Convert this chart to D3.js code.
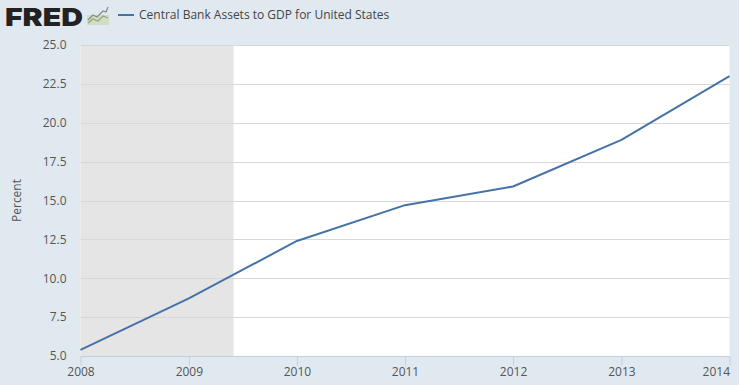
<!DOCTYPE html>
<html>
<head>
<meta charset="utf-8">
<script src="https://cdn.jsdelivr.net/npm/d3@7"></script>
<style>
  html, body { margin: 0; padding: 0; background: #e1e9f0; overflow: hidden; }
  text { font-family: "Open Sans", sans-serif; }
</style>
</head>
<body>
<div id="chart"></div>
<script>
const years = ['2008', '2009', '2010', '2011', '2012', '2013', '2014'];
const assets = [5.4, 8.7, 12.4, 14.7, 15.9, 18.9, 23.0];
const yTicks = [5, 7.5, 10, 12.5, 15, 17.5, 20, 22.5, 25];
const recession = ['2008-01-01', '2009-06-01'];
const seriesName = 'Central Bank Assets to GDP for United States';
const yLabel = 'Percent';
const logoLines = [
    [[1, 13], [6, 8], [10, 10], [16, 4], [19, 5], [21, 0]],
    [[1, 16], [6, 12], [11, 14], [16, 9], [21, 11]]
];
const logoLineColors = ['#7f8f7f', '#93a86f'];

const width = 739;
const height = 385;
const marginTop = 45;
const marginRight = 9.5;
const marginBottom = 29;
const marginLeft = 80.5;

const parseDate = d3.utcParse('%Y-%m-%d');
const dates = years.map(d => parseDate(d + '-01-01'));

const x = d3.scaleUtc()
    .domain([dates[0], dates[dates.length - 1]])
    .range([marginLeft, width - marginRight]);

const y = d3.scaleLinear()
    .domain([5, 25])
    .range([height - marginBottom, marginTop]);

const svg = d3.select('#chart').append('svg')
    .attr('width', width)
    .attr('height', height)
    .attr('viewBox', [0, 0, width, height])
    .style('display', 'block');

svg.append('rect')
    .attr('x', marginLeft)
    .attr('y', marginTop)
    .attr('width', width - marginRight - marginLeft)
    .attr('height', height - marginBottom - marginTop)
    .attr('fill', '#ffffff');

// recession band
svg.append('rect')
    .attr('x', x(parseDate(recession[0])))
    .attr('y', marginTop)
    .attr('width', x(parseDate(recession[1])) - x(parseDate(recession[0])))
    .attr('height', height - marginBottom - marginTop)
    .attr('fill', '#e5e5e5');

// gridlines
svg.append('g')
    .selectAll('line')
    .data(yTicks)
    .join('line')
    .attr('x1', marginLeft)
    .attr('x2', width - marginRight)
    .attr('y1', d => Math.round(y(d)) + 0.5)
    .attr('y2', d => Math.round(y(d)) + 0.5)
    .attr('stroke', d => d === 5 ? '#c0d0e0' : '#d8d8d8')
    .attr('stroke-width', 1);

const xAxis = svg.append('g')
    .attr('transform', `translate(0,${height - marginBottom + 0.5})`)
    .call(d3.axisBottom(x)
        .tickValues(dates)
        .tickFormat(d3.utcFormat('%Y'))
        .tickSize(9)
        .tickPadding(2));
xAxis.select('.domain').remove();
xAxis.selectAll('line').attr('stroke', '#c0d0e0');
xAxis.selectAll('text')
    .attr('fill', '#555555')
    .style('font-size', '12px');
xAxis.selectAll('.tick:last-of-type text').attr('text-anchor', 'end');

const yAxis = svg.append('g')
    .attr('transform', `translate(${marginLeft},0)`)
    .call(d3.axisLeft(y)
        .tickValues(yTicks)
        .tickFormat(d3.format('.1f'))
        .tickSize(0)
        .tickPadding(14));
yAxis.select('.domain').remove();
yAxis.selectAll('text')
    .attr('fill', '#555555')
    .style('font-size', '12px');

svg.append('text')
    .attr('transform', `translate(21,${(marginTop + height - marginBottom) / 2}) rotate(-90)`)
    .attr('text-anchor', 'middle')
    .attr('fill', '#555555')
    .style('font-size', '12px')
    .text(yLabel);

const line = d3.line()
    .x((d, i) => x(dates[i]))
    .y(d => y(d));

svg.append('path')
    .datum(assets)
    .attr('fill', 'none')
    .attr('stroke', '#4572a7')
    .attr('stroke-width', 2)
    .attr('stroke-linejoin', 'round')
    .attr('d', line);

// header: logo and legend
svg.append('text')
    .attr('x', 5)
    .attr('y', 26)
    .attr('fill', '#222222')
    .attr('textLength', 78)
    .attr('lengthAdjust', 'spacingAndGlyphs')
    .style('font-family', 'Inter, sans-serif')
    .style('font-weight', 900)
    .style('font-size', '25px')
    .text('FRED');

const logoIcon = svg.append('g').attr('transform', 'translate(87,7)');
logoIcon.append('rect')
    .attr('y', 8)
    .attr('width', 22)
    .attr('height', 10)
    .attr('fill', '#d3dcc6');
logoIcon.selectAll('path')
    .data(logoLines)
    .join('path')
    .attr('fill', 'none')
    .attr('stroke', (d, i) => logoLineColors[i])
    .attr('stroke-width', 1.2)
    .attr('d', d3.line());

svg.append('line')
    .attr('x1', 118)
    .attr('x2', 134)
    .attr('y1', 15)
    .attr('y2', 15)
    .attr('stroke', '#4572a7')
    .attr('stroke-width', 2);

svg.append('text')
    .attr('x', 139)
    .attr('y', 19)
    .attr('fill', '#444444')
    .style('font-size', '12px')
    .text(seriesName);
</script>
</body>
</html>
